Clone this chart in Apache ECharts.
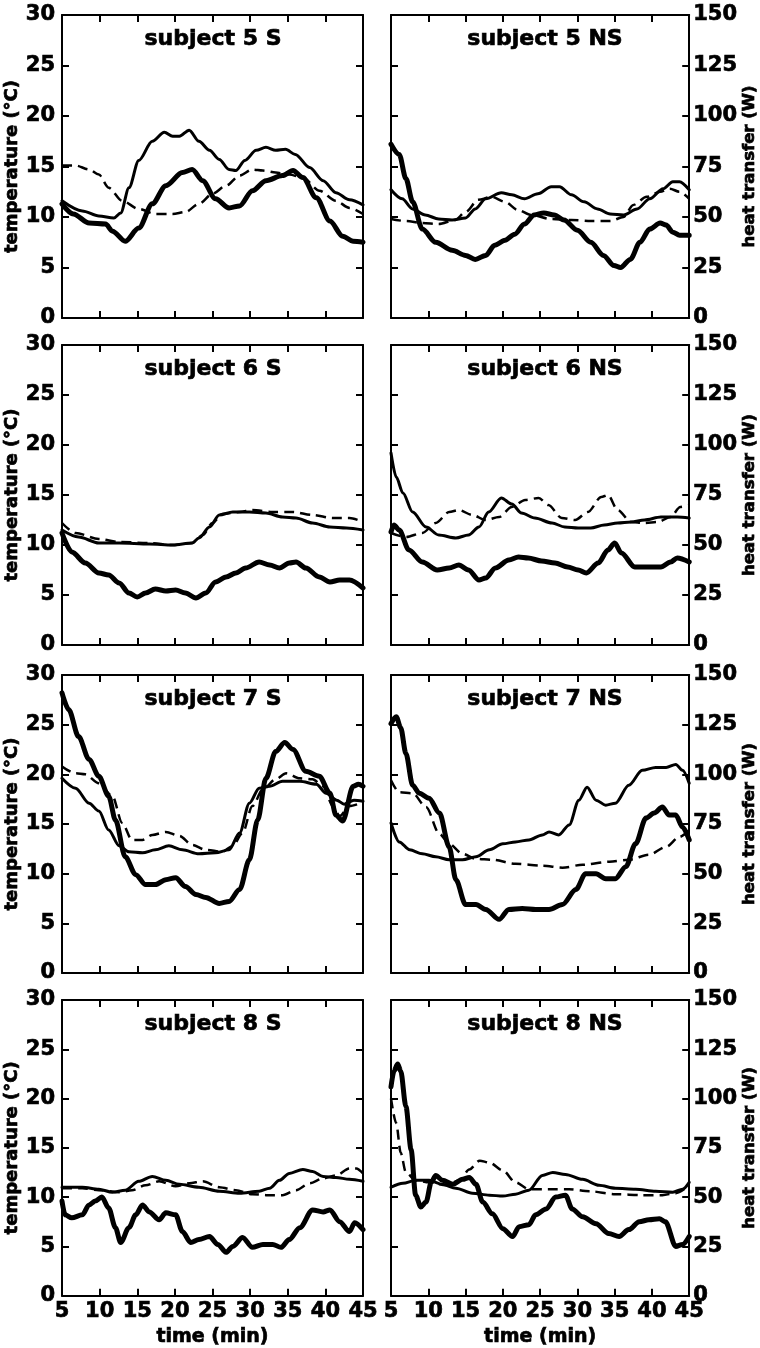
<!DOCTYPE html>
<html>
<head>
<meta charset="utf-8">
<script src="https://cdn.jsdelivr.net/npm/echarts@6/dist/echarts.min.js"></script>
<style>
html,body{margin:0;padding:0;background:#fff;}
#chart{width:760px;height:1348px;}
</style>
</head>
<body>
<div id="chart"></div>
<script>
// ---------------- data (time in min, values in temperature-axis units; 1 °C unit = 5 W) ----------------
const panelTitles = ['subject 5 S','subject 5 NS','subject 6 S','subject 6 NS','subject 7 S','subject 7 NS','subject 8 S','subject 8 NS'];
const xTicks = [5,10,15,20,25,30,35,40,45];
const tempTicks = [0,5,10,15,20,25,30];
const heatTicks = [0,25,50,75,100,125,150];

const p5S_bold = [[5,11.3],[6.5,10.3],[8.6,9.4],[10.8,9.3],[11.7,8.6],[13.4,7.6],[15.2,8.9],[17,11.3],[18.8,13.1],[21,14.4],[22.3,14.7],[23.7,13.6],[25.4,11.8],[27.2,10.9],[28.6,11.1],[30.3,12.6],[32.1,13.6],[34.3,14.1],[35.7,14.6],[37,13.9],[38.8,11.9],[40.6,9.6],[42.3,8.1],[43.7,7.6],[45,7.5]];
const p5S_thin = [[5,11.6],[7.7,10.6],[9.9,10.1],[11.9,9.9],[12.8,10.4],[13.9,12.9],[15.2,15.6],[17,17.5],[18.6,18.4],[19.7,18.0],[20.6,18.0],[21.9,18.6],[23.2,17.5],[24.6,16.6],[25.9,15.7],[27.2,14.7],[28.1,14.6],[29.3,15.6],[30.8,16.6],[32.1,16.9],[33.4,16.6],[34.7,16.7],[36,16.2],[37.9,14.9],[39.7,13.6],[41.4,12.4],[43.2,11.7],[45,11.2]];
const p5S_dash = [[5,15.1],[6.8,15.1],[8.6,14.7],[9.9,14.2],[11.2,12.9],[13,11.6],[15.2,10.8],[17.4,10.3],[19.7,10.3],[21.4,10.5],[23.2,11.3],[25,12.3],[26.8,13.1],[28.6,14.1],[30.3,14.7],[31.7,14.6],[33.4,14.4],[35.2,14.2],[37,13.9],[39.2,12.6],[41.4,11.6],[43.2,10.9],[45,10.3]];

const p5NS_bold = [[5,17.2],[6.1,16.2],[7,13.8],[7.9,11.5],[9.2,8.8],[11,7.5],[13.2,6.7],[15,6.2],[16.3,5.8],[17.7,6.2],[18.9,7.2],[20.3,7.7],[21.6,8.3],[22.9,9.3],[24.2,10.2],[25.5,10.4],[26.9,10.2],[28.2,9.7],[30,8.7],[31.8,7.5],[33.5,6.2],[34.9,5.2],[35.8,5.0],[37.1,5.8],[38.4,7.5],[39.7,8.8],[41.1,9.4],[41.9,9.2],[42.8,8.5],[43.7,8.2],[45,8.2]];
const p5NS_thin = [[5,12.7],[6.5,11.8],[7.9,10.8],[9.6,10.2],[11.4,9.8],[13.2,9.7],[15,9.9],[16.3,10.8],[17.7,11.8],[19.8,12.4],[21.2,12.2],[22.9,11.8],[24.7,12.3],[26.5,13.0],[27.6,13.0],[29.2,12.2],[30.9,11.5],[32.7,10.8],[34.4,10.3],[36.2,10.2],[38,10.8],[39.7,11.8],[41.5,12.8],[42.8,13.5],[43.7,13.5],[45,12.7]];
const p5NS_dash = [[5,9.8],[7,9.6],[9.2,9.4],[11.4,9.3],[13.6,9.7],[15,10.5],[16.7,11.7],[18.5,12.0],[20.3,11.5],[22,10.7],[23.8,10.2],[26.5,9.8],[29.2,9.7],[31.8,9.6],[34.4,9.6],[36.2,10.0],[37.5,11.2],[39.3,12.0],[41.1,12.5],[42.4,12.8],[43.7,12.5],[45,11.8]];

const p6S_bold = [[5,11.2],[6.3,9.3],[8.1,8.2],[9.9,7.2],[11.2,7.0],[12.6,6.2],[13.9,5.2],[15,4.8],[16.1,5.2],[17.4,5.6],[18.8,5.4],[20.1,5.5],[21.4,5.2],[22.8,4.7],[24.1,5.2],[25.4,6.3],[26.8,6.8],[28.1,7.2],[29.4,7.7],[31.2,8.3],[32.6,8.0],[33.9,7.7],[35.2,8.2],[36.1,8.3],[37.4,7.7],[39.2,6.8],[40.6,6.3],[41.9,6.5],[43.2,6.5],[45,5.7]];
const p6S_thin = [[5,11.5],[7.2,10.8],[9.9,10.2],[12.6,10.2],[16.6,10.1],[19.7,10.0],[22.3,10.2],[23.2,10.7],[24.6,11.8],[25.9,13.0],[27.7,13.3],[29.9,13.3],[32.1,13.2],[34.3,12.8],[36.1,12.7],[38.3,12.2],[40.6,11.8],[42.8,11.7],[45,11.5]];
const p6S_dash = [[5,12.2],[6.8,11.2],[9.9,10.6],[12.6,10.3],[16.6,10.2],[19.7,10.0],[22.3,10.2],[23.7,11.0],[25,12.2],[26.3,13.1],[28.6,13.3],[30.3,13.5],[33,13.3],[35.7,13.3],[38.3,13.0],[41,12.7],[43.2,12.7],[45,12.3]];

const p6NS_bold = [[5,11.3],[5.4,12.0],[6.1,11.5],[7.4,9.5],[9.2,8.3],[11.2,7.5],[12.8,7.7],[14.1,8.0],[15.4,7.5],[16.8,6.5],[17.7,6.7],[19,7.7],[20.8,8.5],[22.1,8.8],[23.4,8.7],[25.2,8.4],[27,8.2],[28.7,7.8],[30.1,7.5],[31.2,7.2],[32.8,8.2],[34.1,9.5],[35,10.2],[35.9,9.2],[37.7,7.8],[39.4,7.8],[41.2,7.8],[42.5,8.3],[43.4,8.7],[45,8.3]];
const p6NS_thin = [[5,19.2],[5.7,16.8],[6.6,15.2],[7.9,13.3],[9.7,11.8],[11.4,11.0],[13.7,10.7],[15.4,11.0],[16.8,11.8],[18.1,13.3],[19.8,14.7],[21.2,14.1],[22.5,13.2],[24.3,12.7],[26.6,12.2],[28.3,11.8],[30.1,11.7],[31.8,11.7],[33.6,12.0],[35.4,12.2],[37.2,12.3],[39,12.5],[41.2,12.8],[43.4,12.8],[45,12.7]];
const p6NS_dash = [[5,11.2],[7,10.8],[9.2,11.2],[11,12.2],[12.8,13.3],[14.1,13.5],[15.9,13.0],[17.7,12.5],[19.5,12.8],[21.2,13.8],[23,14.5],[24.8,14.7],[26.1,14.0],[27.9,12.7],[29.7,12.5],[31.4,13.3],[33.2,14.8],[34.1,15.0],[35.4,13.5],[37.2,12.3],[39,12.2],[40.8,12.3],[42.5,12.8],[43.8,13.8],[45,14.0]];

const p7S_bold = [[5,28.2],[5.9,26.5],[7.2,23.8],[8.6,21.5],[9.9,19.8],[11.2,17.8],[12.1,15.4],[13.4,11.7],[14.8,9.9],[16.1,8.9],[17.4,8.9],[18.8,9.4],[20.1,9.6],[21.4,8.7],[22.8,7.9],[24.1,7.6],[25.9,7.0],[27.2,7.2],[28.6,8.4],[29.9,11.4],[31,15.4],[32.1,19.6],[33.4,22.3],[34.6,23.2],[35.7,22.5],[37.4,20.3],[39.2,19.8],[40.6,18.1],[41.4,15.9],[42.3,15.3],[43.7,18.8],[44.4,19.0],[45,18.8]];
const p7S_thin = [[5,19.6],[6.8,18.6],[8.6,17.1],[9.9,16.3],[11.2,14.4],[12.6,12.8],[13.9,12.2],[15.7,12.1],[17.4,12.4],[19.2,12.8],[21,12.4],[23.2,12.0],[25.4,12.1],[27.2,12.4],[28.6,14.1],[29.9,17.1],[31.2,18.6],[32.6,18.8],[34.3,19.3],[36.6,19.3],[38.8,19.0],[40.1,18.1],[41.5,17.4],[42.5,17.0],[43.8,17.4],[45,17.3]];
const p7S_dash = [[5,20.8],[6.8,20.1],[8.1,20.0],[9.9,19.1],[11.7,17.8],[13,15.1],[14.3,13.4],[15.7,13.4],[17,13.9],[18.8,14.2],[20.6,13.8],[22.3,12.9],[24.1,12.4],[26.3,12.2],[27.7,12.8],[29,14.1],[30.3,16.8],[31.7,18.5],[33.4,19.5],[34.8,20.1],[36.6,19.6],[38.3,19.5],[39.7,18.8],[41,16.8],[41.9,15.8],[43.2,16.8],[45,17.2]];

const p7NS_bold = [[5,25.1],[5.7,25.8],[6.3,24.7],[7,22.1],[7.9,18.9],[8.8,18.1],[10.1,17.6],[11.5,16.1],[12.8,12.7],[13.7,9.4],[15,6.9],[16.4,6.9],[17.7,6.4],[19.5,5.4],[20.8,6.4],[22.6,6.5],[24.4,6.4],[26.2,6.4],[28,6.9],[29.8,8.4],[31.1,10.0],[32.5,10.0],[33.8,9.5],[35.1,9.5],[36.5,10.7],[37.8,13.0],[39.2,15.6],[40.3,16.1],[41.4,16.7],[42.3,15.9],[43.2,15.9],[44.1,14.7],[45,13.4]];
const p7NS_thin = [[5,15.1],[6.1,13.2],[7.5,12.4],[9.2,12.0],[11,11.7],[12.8,11.4],[14.6,11.4],[16.4,11.7],[18.2,12.4],[20,13.0],[21.7,13.2],[23.5,13.4],[25.3,13.9],[26.2,14.2],[27.5,13.9],[28.9,14.9],[30.2,17.4],[31.3,18.7],[32.5,17.4],[33.8,16.9],[35.1,17.1],[36.9,18.9],[38.7,20.4],[40.5,20.7],[41.9,20.7],[43.2,21.0],[44.1,20.4],[45,19.1]];
const p7NS_dash = [[5,19.4],[6.1,18.2],[7.9,18.1],[9.7,16.7],[11.5,14.0],[12.8,13.0],[14.6,12.0],[16.4,11.5],[18.6,11.4],[21.7,11.0],[25.3,10.8],[28,10.6],[30.7,10.9],[34.3,11.2],[36.9,11.4],[39.6,11.9],[41.9,12.7],[43.7,13.7],[45,14.4]];

const p8S_bold = [[5,9.6],[5.4,8.2],[6.3,7.9],[7.7,8.2],[8.6,9.2],[9.4,9.6],[10.3,10.0],[11.2,8.9],[12.1,6.9],[12.8,5.4],[13.9,6.9],[14.8,8.2],[15.7,9.2],[16.6,8.5],[17.9,7.7],[18.8,8.4],[20.1,8.2],[21,6.5],[22.1,5.4],[23.2,5.7],[24.6,6.0],[25.7,5.2],[26.8,4.4],[27.7,5.0],[29,5.9],[30.3,4.9],[31.7,5.2],[33,5.2],[34.1,4.9],[35.2,5.7],[36.6,6.9],[38.3,8.7],[39.7,8.5],[40.6,8.7],[41.9,7.5],[43.2,6.5],[43.9,7.4],[45,6.7]];
const p8S_thin = [[5,11.0],[7.7,11.0],[9.9,10.8],[11.7,10.5],[13.4,10.7],[15.2,11.6],[17,12.1],[18.8,11.7],[20.6,11.3],[23.2,11.0],[25.9,10.6],[28.6,10.4],[31.2,10.6],[32.6,10.9],[33.9,11.7],[35.2,12.4],[37,12.8],[38.3,12.6],[39.7,12.1],[41.4,12.0],[43.2,11.8],[45,11.6]];
const p8S_dash = [[5,10.9],[7.7,10.9],[9.9,10.7],[12.6,10.5],[14.3,10.7],[16.1,11.2],[17.9,11.6],[20.1,11.1],[21.9,11.4],[23.7,11.6],[25.9,11.0],[28.1,10.7],[30.3,10.3],[32.1,10.2],[34.3,10.2],[36.1,10.7],[37.9,11.4],[39.7,11.9],[41.4,12.2],[43.2,12.9],[44.1,12.9],[45,12.4]];

const p8NS_bold = [[5,21.2],[5.4,22.8],[5.9,23.5],[6.3,22.8],[7,19.2],[7.7,14.8],[8.3,10.2],[9,9.0],[9.7,9.5],[10.4,11.5],[11,12.2],[11.9,11.7],[13.3,11.3],[14.6,11.8],[15.5,12.0],[16.4,11.3],[17.3,9.5],[18.6,8.3],[20,6.8],[21.3,6.0],[22.2,7.0],[23.5,7.2],[24.4,8.2],[25.8,8.8],[27.1,10.0],[28.4,10.2],[29.3,8.8],[30.7,8.0],[32.5,7.3],[34.2,6.3],[35.6,6.0],[36.9,6.7],[38.3,7.5],[39.6,7.7],[41,7.8],[41.8,7.5],[43.2,5.0],[44.1,5.2],[45,6.0]];
const p8NS_thin = [[5,11.0],[6.6,11.4],[8.3,11.7],[10.1,11.7],[11.9,11.3],[13.7,10.9],[15.9,10.4],[18.2,10.2],[20,10.1],[21.7,10.3],[23.5,10.7],[25.3,12.2],[26.7,12.5],[28.4,12.3],[30.7,11.8],[32.9,11.2],[35.1,10.9],[37.8,10.8],[40.5,10.6],[42.8,10.5],[44.1,10.8],[45,11.5]];
const p8NS_dash = [[5,20.0],[5.7,17.5],[6.3,14.5],[7,12.5],[8.3,11.7],[10.1,11.5],[12.4,11.2],[14.2,11.7],[15.5,12.8],[16.9,13.7],[18.2,13.5],[20,12.7],[21.7,11.5],[23.5,10.8],[26.2,10.8],[28.9,10.8],[31.6,10.6],[35.1,10.3],[38.7,10.2],[41.4,10.2],[43.2,10.4],[45,11.2]];

const panelBold = [p5S_bold,p5NS_bold,p6S_bold,p6NS_bold,p7S_bold,p7NS_bold,p8S_bold,p8NS_bold];
const panelThin = [p5S_thin,p5NS_thin,p6S_thin,p6NS_thin,p7S_thin,p7NS_thin,p8S_thin,p8NS_thin];
const panelDash = [p5S_dash,p5NS_dash,p6S_dash,p6NS_dash,p7S_dash,p7NS_dash,p8S_dash,p8NS_dash];

// ---------------- layout ----------------
const colLeft = [62, 391];
const colWidth = [301, 300];
const rowTop = [15, 345, 675, 1000];
const rowH = [303, 300, 298, 298];
const FONT = 'DejaVu Sans';
const BLACK = '#000';

const axisLine = {show:true, onZero:false, lineStyle:{color:BLACK, width:2}};
const axisTick = {show:true, inside:true, length:7, lineStyle:{color:BLACK, width:2}};
const heavy = {textBorderColor:BLACK, textBorderWidth:0.7};
const labelStyle = Object.assign({fontFamily:FONT, fontWeight:'bold', fontSize:21, color:BLACK}, heavy);

const grid = [], xAxis = [], yAxis = [], series = [], title = [];
for (let i = 0; i < 8; i++) {
  const r = Math.floor(i/2), c = i % 2;
  grid.push({left:colLeft[c], top:rowTop[r], width:colWidth[c], height:rowH[r], containLabel:false});
  const lastRow = r === 3;
  xAxis.push({
    gridIndex:i, type:'value', position:'bottom', min:xTicks[0], max:xTicks[xTicks.length-1], interval:5,
    axisLine, axisTick, splitLine:{show:false},
    axisLabel: Object.assign({show:lastRow, margin:5}, labelStyle),
    name: lastRow ? 'time (min)' : '', nameLocation:'middle', nameGap:32,
    nameTextStyle:Object.assign({fontFamily:FONT, fontWeight:'bold', fontSize:19, color:BLACK}, heavy)
  });
  xAxis.push({
    gridIndex:i, type:'value', position:'top', min:xTicks[0], max:xTicks[xTicks.length-1], interval:5,
    axisLine, axisTick, splitLine:{show:false}, axisLabel:{show:false}
  });
  yAxis.push({
    gridIndex:i, type:'value', position:'left', min:tempTicks[0], max:tempTicks[tempTicks.length-1], interval:5,
    axisLine, axisTick, splitLine:{show:false},
    axisLabel: Object.assign({show:c===0, margin:7}, labelStyle),
    name: c===0 ? 'temperature (°C)' : '', nameLocation:'middle', nameRotate:90, nameGap:29,
    nameTextStyle:Object.assign({fontFamily:FONT, fontWeight:'bold', fontSize:18, color:BLACK}, heavy)
  });
  yAxis.push({
    gridIndex:i, type:'value', position:'right', min:heatTicks[0], max:heatTicks[heatTicks.length-1], interval:25,
    axisLine, axisTick, splitLine:{show:false},
    axisLabel: Object.assign({show:c===1, margin:4}, labelStyle),
    name: c===1 ? 'heat transfer (W)' : '', nameLocation:'middle', nameRotate:90, nameGap:51,
    nameTextStyle:Object.assign({fontFamily:FONT, fontWeight:'bold', fontSize:16.5, color:BLACK}, heavy)
  });
  title.push({
    text: panelTitles[i], left: c===0 ? 213 : 545, top: rowTop[r] + 13, textAlign:'center', padding:0,
    textStyle:Object.assign({fontFamily:FONT, fontWeight:'bold', fontSize:22, color:BLACK}, heavy)
  });
  const common = {type:'line', xAxisIndex:2*i, yAxisIndex:2*i, showSymbol:false, smooth:0.3, smoothMonotone:'x', silent:true, animation:false};
  series.push(Object.assign({}, common, {name:panelTitles[i]+' dashed', data:panelDash[i], lineStyle:{color:BLACK, width:2.5, type:[10,6]}}));
  series.push(Object.assign({}, common, {name:panelTitles[i]+' thin', data:panelThin[i], lineStyle:{color:BLACK, width:3, cap:'round', join:'round'}}));
  series.push(Object.assign({}, common, {name:panelTitles[i]+' thick', data:panelBold[i], lineStyle:{color:BLACK, width:5, cap:'round', join:'round'}}));
}

const chart = echarts.init(document.getElementById('chart'), null, {renderer:'canvas'});
chart.setOption({backgroundColor:'#fff', animation:false, title, grid, xAxis, yAxis, series});
</script>
</body>
</html>
